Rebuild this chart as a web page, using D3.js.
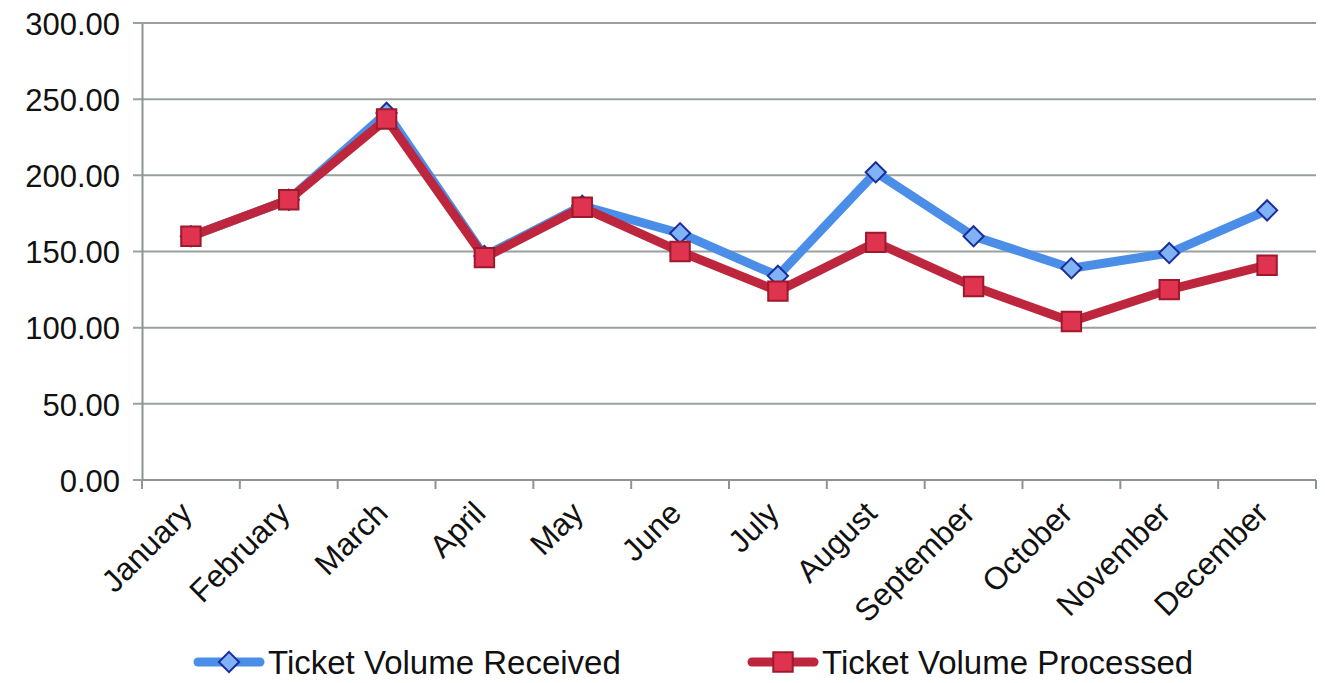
<!DOCTYPE html>
<html>
  <head>
    <meta charset="utf-8">
    <script src="https://d3js.org/d3.v7.min.js"></script>
    <style>
      body { margin: 0px; background: #fff; }
      text { font-family: "Liberation Sans", Arial, sans-serif; fill: #111; }
    </style>
  </head>
  <body>
    <svg width="1325" height="683"></svg>
    <script>
      const months = ['January', 'February', 'March', 'April', 'May', 'June',
        'July', 'August', 'September', 'October', 'November', 'December'];
      const received = [160, 184, 241, 147, 180, 162, 134, 202, 160, 139, 149, 177];
      const processed = [160, 184, 237, 146, 179, 150, 124, 156, 127, 104, 125, 141];
      const yTicks = [0, 50, 100, 150, 200, 250, 300];
      const seriesNames = ['Ticket Volume Received', 'Ticket Volume Processed'];

      const margin = { left: 142, right: 9, top: 23, bottom: 203 };
      const svg = d3.select('svg');
      const width = +svg.attr('width');
      const height = +svg.attr('height');
      const innerWidth = width - margin.left - margin.right;
      const innerHeight = height - margin.top - margin.bottom;

      const g = svg.append('g')
        .attr('transform', `translate(${margin.left},${margin.top})`);

      const xScale = d3.scaleBand().domain(months).range([0, innerWidth]);
      const yScale = d3.scaleLinear().domain([0, 300]).range([innerHeight, 0]);

      // grid lines (with short ticks sticking out to the left)
      g.selectAll('.grid').data(yTicks).enter()
        .append('line')
          .attr('x1', -9).attr('x2', innerWidth)
          .attr('y1', d => yScale(d)).attr('y2', d => yScale(d))
          .attr('stroke', '#9aa0a0')
          .attr('stroke-width', 2);

      // y axis
      const yAxisG = g.append('g')
        .call(d3.axisLeft(yScale).tickValues(yTicks).tickSize(0).tickPadding(22)
          .tickFormat(d3.format('.2f')));
      yAxisG.select('.domain').attr('stroke', '#8e9494').attr('stroke-width', 2);
      yAxisG.selectAll('.tick text')
        .style('font-size', '31px')
        .attr('dy', '0.36em')
        .style('fill', '#111');

      // x axis: ticks on band boundaries
      const xAxisG = g.append('g').attr('transform', `translate(0,${innerHeight})`);
      xAxisG.selectAll('.xtick').data(d3.range(months.length + 1)).enter()
        .append('line')
          .attr('x1', i => i * xScale.step()).attr('x2', i => i * xScale.step())
          .attr('y1', 0).attr('y2', 9)
          .attr('stroke', '#8e9494').attr('stroke-width', 2);
      xAxisG.append('line')
        .attr('x1', 0).attr('x2', innerWidth)
        .attr('stroke', '#8e9494').attr('stroke-width', 2);
      xAxisG.selectAll('.xlabel').data(months).enter()
        .append('text')
          .attr('transform', d => `translate(${xScale(d) + xScale.bandwidth() / 2 + 3},${35}) rotate(-45)`)
          .attr('text-anchor', 'end')
          .style('font-size', '31.5px')
          .text(d => d);

      const cx = (d, i) => xScale(months[i]) + xScale.bandwidth() / 2;
      const line = d3.line().x(cx).y(d => yScale(d));

      const diamond = d3.symbol().type(d3.symbolDiamond2).size(260);
      const square = d3.symbol().type(d3.symbolSquare2).size(480);

      // received series
      g.append('path').datum(received)
        .attr('fill', 'none')
        .attr('stroke', '#4b8ee8')
        .attr('stroke-width', 9)
        .attr('stroke-linejoin', 'round')
        .attr('d', line);
      g.selectAll('.rec').data(received).enter()
        .append('path')
          .attr('transform', (d, i) => `translate(${cx(d, i)},${yScale(d)})`)
          .attr('d', diamond)
          .attr('fill', '#7fb3f6')
          .attr('stroke', '#1c2c9c')
          .attr('stroke-width', 2);

      // processed series
      g.append('path').datum(processed)
        .attr('fill', 'none')
        .attr('stroke', '#bd263c')
        .attr('stroke-width', 9)
        .attr('stroke-linejoin', 'round')
        .attr('d', line);
      g.selectAll('.proc').data(processed).enter()
        .append('path')
          .attr('transform', (d, i) => `translate(${cx(d, i)},${yScale(d)})`)
          .attr('d', square)
          .attr('fill', '#e0334f')
          .attr('stroke', '#9c1a2c')
          .attr('stroke-width', 2);

      // legend
      const legend = svg.append('g').attr('transform', 'translate(0,662)');
      const items = [
        { x: 198, color: '#4b8ee8', shape: diamond, fill: '#7fb3f6', edge: '#1c2c9c' },
        { x: 752, color: '#bd263c', shape: square, fill: '#e0334f', edge: '#9c1a2c' }
      ];
      items.forEach((it, i) => {
        legend.append('line')
          .attr('x1', it.x).attr('x2', it.x + 62)
          .attr('stroke', it.color).attr('stroke-width', 9).attr('stroke-linecap', 'round');
        legend.append('path')
          .attr('transform', `translate(${it.x + 31},0)`)
          .attr('d', it.shape)
          .attr('fill', it.fill).attr('stroke', it.edge).attr('stroke-width', 2);
        legend.append('text')
          .attr('x', it.x + 70).attr('y', 0).attr('dy', '0.36em')
          .style('font-size', '33px')
          .text(seriesNames[i]);
      });
    </script>
  </body>
</html>
